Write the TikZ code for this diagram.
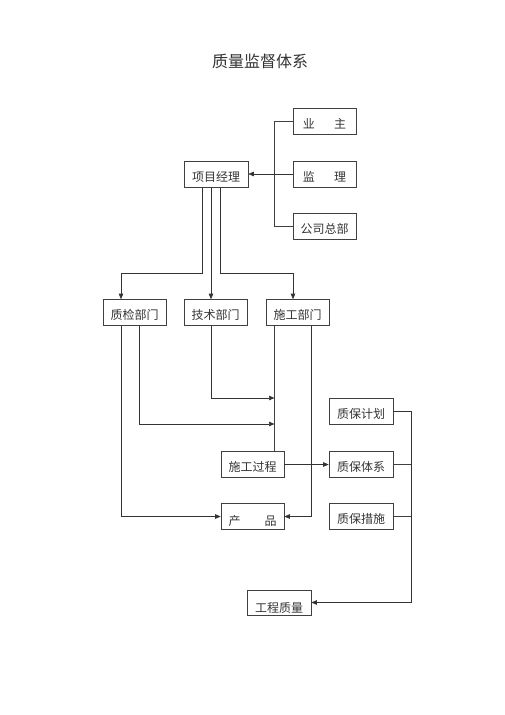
\documentclass[tikz,border=0pt]{standalone}
\usepackage{fontspec}
\newfontfamily\cjk{Noto Sans CJK SC}
\usetikzlibrary{arrows.meta}
\begin{document}
\begin{tikzpicture}[x=1pt,y=-1pt,line width=0.6pt,
  box/.style={draw=black!75,minimum width=63pt,minimum height=26pt,inner sep=0pt,
    font=\cjk\fontsize{12}{13}\selectfont,text=black!80,text height=14pt,text depth=0pt},
  link/.style={draw=black!75},
  arr/.style={draw=black!80,-{Triangle[length=5.5pt,width=4.5pt]}}]
\useasboundingbox (0,0) rectangle (505,715);
\node[font=\cjk\fontsize{16}{18}\selectfont,text=black!80] (title) at (260,61) {质量监督体系};

\node[box] (yezhu) at (324.5,121) {业\hspace{1.6em}主};
\node[box] (jianli) at (324.5,174) {监\hspace{1.6em}理};
\node[box] (zongbu) at (324.5,226.5) {公司总部};
\node[box,minimum width=64pt] (xmjl) at (216,174) {项目经理};

\node[box] (zhijian) at (134.5,312.5) {质检部门};
\node[box] (jishu) at (215.5,312.5) {技术部门};
\node[box] (shigong) at (297.5,312.5) {施工部门};

\node[box] (sggc) at (252.5,464.5) {施工过程};
\node[box,text height=18pt] (chanpin) at (252.5,516.5) {产\hspace{2em}品};
\node[box,minimum width=64pt] (zbjh) at (361,411.5) {质保计划};
\node[box,minimum width=64pt] (zbtx) at (361,464.5) {质保体系};
\node[box,minimum width=64pt] (zbcs) at (361,516.5) {质保措施};
\node[box,minimum width=64pt,minimum height=25pt,text height=20pt] (gczl) at (279,602.5) {工程质量};

\coordinate (jin1) at (274.5,398);
\coordinate (jin2) at (274.5,424);

\draw[link] (yezhu.west) -- ++(-18,0) |- (zongbu.west);
\draw[arr] (jianli.west) -- (xmjl.east);

\draw[arr] ([xshift=-14pt]xmjl.south) -- ++(0,86) -| ([xshift=-13.5pt]zhijian.north);
\draw[arr] ([xshift=-5pt]xmjl.south) -- ([xshift=-4.5pt]jishu.north);
\draw[arr] ([xshift=4pt]xmjl.south) -- ++(0,86) -| ([xshift=-4.5pt]shigong.north);

\draw[arr] ([xshift=-4.5pt]jishu.south) |- (jin1);
\draw[arr] ([xshift=4.5pt]zhijian.south) |- (jin2);
\draw[link] ([xshift=-23pt]shigong.south) -- ([xshift=22pt]sggc.north);
\draw[arr] ([xshift=-13.5pt]zhijian.south) |- (chanpin.west);
\draw[arr] ([xshift=13.5pt]shigong.south) |- (chanpin.east);

\draw[arr] (sggc.east) -- (zbtx.west);
\draw[link] (zbtx.east) -- ++(18,0);
\draw[link] (zbcs.east) -- ++(18,0);
\draw[arr] (zbjh.east) -- ++(18,0) |- (gczl.east);
\end{tikzpicture}
\end{document}
